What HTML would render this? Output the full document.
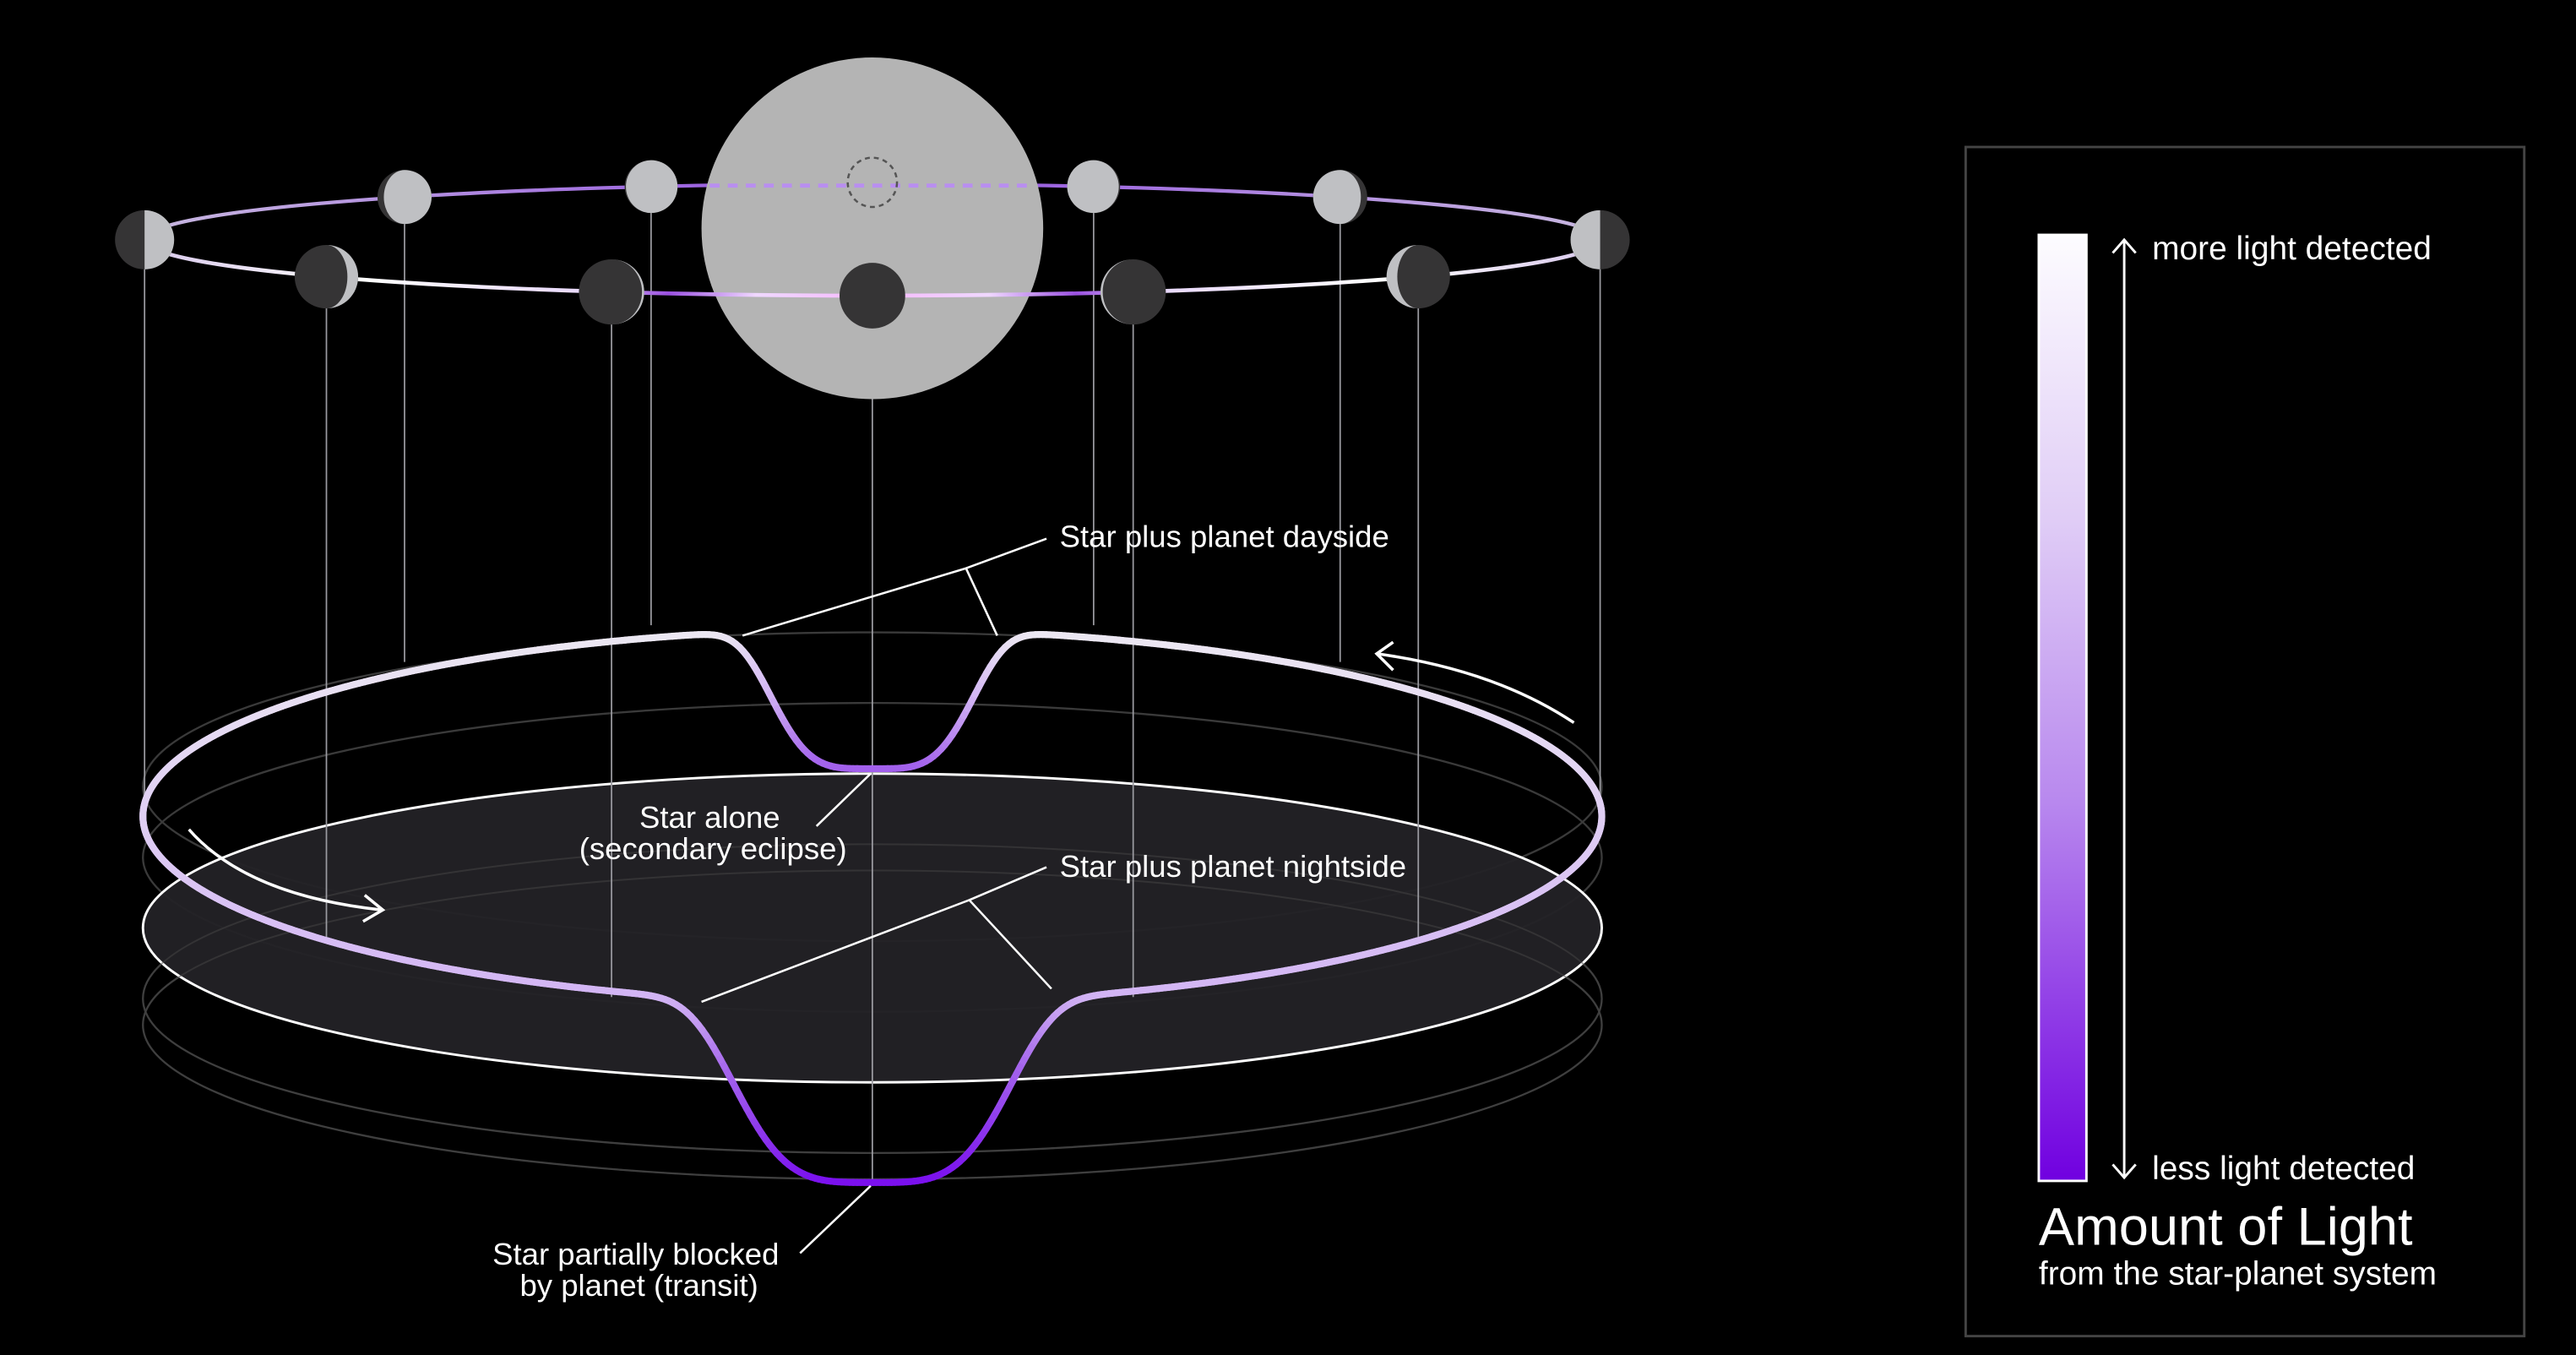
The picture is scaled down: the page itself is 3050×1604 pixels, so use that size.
<!DOCTYPE html>
<html><head><meta charset="utf-8"><style>
html,body{margin:0;padding:0;background:#000;width:3050px;height:1604px;overflow:hidden}
svg{display:block}
text{font-family:"Liberation Sans",sans-serif;fill:#fff}
</style></head><body>
<svg id="chart" width="3050" height="1604" viewBox="0 0 1568 825" preserveAspectRatio="none" xmlns="http://www.w3.org/2000/svg">
<defs>
<linearGradient id="legGrad" x1="0" y1="0" x2="0" y2="1">
<stop offset="0" stop-color="#fdfcff"/><stop offset="0.3" stop-color="#e0cdf6"/><stop offset="0.6" stop-color="#b888ee"/><stop offset="1" stop-color="#7000e0"/>
</linearGradient>
<linearGradient id="frontGrad" x1="88" y1="0" x2="974" y2="0" gradientUnits="userSpaceOnUse">
<stop offset="0" stop-color="#d8c8ec"/><stop offset="0.15" stop-color="#ffffff"/><stop offset="0.3" stop-color="#e8d8fa"/>
<stop offset="0.36" stop-color="#9a50e0"/><stop offset="0.42" stop-color="#f0d8ff"/><stop offset="0.5" stop-color="#f6b8ff"/>
<stop offset="0.58" stop-color="#f0d8ff"/><stop offset="0.64" stop-color="#9a50e0"/><stop offset="0.7" stop-color="#e8d8fa"/>
<stop offset="0.85" stop-color="#ffffff"/><stop offset="1" stop-color="#d8c8ec"/>
</linearGradient>
<linearGradient id="backGrad" x1="88" y1="0" x2="974" y2="0" gradientUnits="userSpaceOnUse">
<stop offset="0" stop-color="#c8b8e0"/><stop offset="0.4" stop-color="#9a60e0"/><stop offset="0.6" stop-color="#9a60e0"/><stop offset="1" stop-color="#c8b8e0"/>
</linearGradient>
</defs>
<g id="lowerLayer"></g>
<g id="topLayer"></g>
<g id="legend">
<rect x="1196.5" y="89.5" width="340" height="724" fill="none" stroke="#444" stroke-width="1.5"/>
<rect x="1241" y="143" width="29" height="576" fill="url(#legGrad)" stroke="#fff" stroke-width="1.5"/>
<line x1="1293" y1="147" x2="1293" y2="716" stroke="#fff" stroke-width="1.5"/>
<polyline points="1286,154 1293,146 1300,154" fill="none" stroke="#fff" stroke-width="1.5"/>
<polyline points="1286,709 1293,717 1300,709" fill="none" stroke="#fff" stroke-width="1.5"/>
<text x="1310" y="158" font-size="20">more light detected</text>
<text x="1310" y="718" font-size="20">less light detected</text>
<text x="1241" y="758" font-size="32.5">Amount of Light</text>
<text x="1241" y="782" font-size="20">from the star-planet system</text>
</g>
</svg>
<script>
// light-curve levels (height of curve above orbit plane)
const levelNames = ["transit", "starAlone", "nightside", "dayside"];
const levelValues = [-61, 3, 48, 88];
// moon orbital phases in degrees (0 = front / transit, 180 = behind star)
const moonPhases = [90, 48.6, 140, 21, 162.3, 0, -162.3, -21, -140, -48.6, -90];
// plane offsets of faint reference ellipses
const guideOffsets = [-86, -43, 43, 59];

(function(){
const NS = "http://www.w3.org/2000/svg";
const CX = 531, RX = 444, PCY = 565, PRY = 94;
const OCY = 146, ORX = 443, ORY = 34;
const TR = levelValues[0], SA = levelValues[1], NI = levelValues[2], DA = levelValues[3];
function mk(tag, attrs, parent){const e=document.createElementNS(NS,tag);for(const k in attrs)e.setAttribute(k,attrs[k]);parent.appendChild(e);return e;}
function sg(d,w){return Math.exp(-Math.pow(d/w,4));}
function flux(p){
  let f = NI + (DA-NI)*(1-Math.cos(p))/2;
  let e = sg(Math.abs(p-Math.PI),0.15);
  f = f*(1-e) + SA*e;
  let t = sg(Math.min(p, 2*Math.PI-p),0.205);
  f = f*(1-t) + TR*t;
  return f;
}
function px(p){return CX - RX*Math.sin(p);}
function py(p,f){return PCY + PRY*Math.cos(p) - f;}
function col(f){
  let c=(f-TR)/(DA-TR);
  const stops=[[0,[122,16,238]],[0.45,[164,100,236]],[0.75,[212,184,244]],[1,[236,232,242]]];
  for(let i=1;i<stops.length;i++){if(c<=stops[i][0]){const a=stops[i-1],b=stops[i];const t=(c-a[0])/(b[0]-a[0]);return "rgb("+a[1].map((v,j)=>Math.round(v+(b[1][j]-v)*t)).join(",")+")";}}
  return "rgb(236,232,242)";
}
const lowerG=document.getElementById("lowerLayer");
guideOffsets.forEach(o=>{
  const el=mk("ellipse",{cx:CX,cy:PCY+o,rx:RX,ry:PRY,fill:"none",stroke:"#3a3a3a","stroke-width":1.2},lowerG);
  
  
});
const diskEl=mk("ellipse",{cx:CX,cy:PCY,rx:RX,ry:PRY,fill:"#232226","fill-opacity":"0.95",stroke:"#fff","stroke-width":1.5},lowerG);


guideOffsets.slice(2).forEach(o=>{
  mk("ellipse",{cx:CX,cy:PCY+o,rx:RX,ry:PRY,fill:"none",stroke:"#444","stroke-width":1,"stroke-opacity":0.5},lowerG);
});
moonPhases.forEach(d=>{
  const p=d*Math.PI/180;
  const x=CX-ORX*Math.sin(p), y=OCY+ORY*Math.cos(p);
  let yEnd = (d===0)? py(0,TR) : 495+120*Math.cos(p);
  const l=mk("line",{x1:x,y1:y,x2:x,y2:yEnd,stroke:"#9a9aa0","stroke-width":0.9},lowerG);
  
  
});
const curveG=mk("g",{},lowerG);


const N=1200;
for(let i=0;i<N;i++){
  const p0=i/N*2*Math.PI,p1=(i+1)/N*2*Math.PI;
  const f0=flux(p0),f1=flux(p1);
  mk("line",{x1:px(p0),y1:py(p0,f0),x2:px(p1),y2:py(p1,f1),stroke:col((f0+f1)/2),"stroke-width":4.2,"stroke-linecap":"round"},curveG);
}
const topG=document.getElementById("topLayer");
const backArc=mk("path",{d:`M${CX-ORX},${OCY} A${ORX} ${ORY} 0 0 1 ${CX+ORX},${OCY}`,fill:"none",stroke:"url(#backGrad)","stroke-width":2.2},topG);


function moon(d,parent){
  const p=d*Math.PI/180;
  const x=CX-ORX*Math.sin(p), y=OCY+ORY*Math.cos(p);
  const r=18+2*Math.cos(p);
  const g=mk("g",{},parent);
  
  
  mk("circle",{cx:x,cy:y,r:r,fill:"#353435"},g);
  const k=(1-Math.cos(p))/2;
  if(k<0.01) return;
  const right = x<CX;
  const t=r*Math.abs(2*k-1);
  const s1=right?1:0;
  const s2 = (k>0.5) ? s1 : 1-s1;
  mk("path",{d:`M${x},${y-r} A${r} ${r} 0 0 ${s1} ${x},${y+r} A${t} ${r} 0 0 ${s2} ${x},${y-r} Z`,fill:"#bfc0c3"},g);
}
moonPhases.filter(d=>Math.abs(d)>90).forEach(d=>moon(d,topG));
const starEl=mk("circle",{cx:CX,cy:139,r:104,fill:"#b4b4b4"},topG);


mk("line",{x1:432,y1:113,x2:628,y2:113,stroke:"#b98ef0","stroke-width":2.5,"stroke-dasharray":"6 5"},topG);
const hid=mk("circle",{cx:CX,cy:111,r:15,fill:"none",stroke:"#555","stroke-width":1.3,"stroke-dasharray":"3 2.5"},topG);


const frontArc=mk("path",{d:`M${CX-ORX},${OCY} A${ORX} ${ORY} 0 0 0 ${CX+ORX},${OCY}`,fill:"none",stroke:"url(#frontGrad)","stroke-width":2.4},topG);


moonPhases.filter(d=>Math.abs(d)<=90).forEach(d=>moon(d,topG));
})();
</script>
<svg style="position:absolute;left:0;top:0" width="3050" height="1604" viewBox="0 0 1568 825" preserveAspectRatio="none" xmlns="http://www.w3.org/2000/svg">
<g stroke="#fff" stroke-width="1.3" fill="none">
<polyline points="637,328 588,346 452,387"/>
<line x1="588" y1="346" x2="607" y2="387"/>
<line x1="530" y1="471" x2="497" y2="503"/>
<polyline points="637,528 590,548 427,610"/>
<line x1="590" y1="548" x2="640" y2="602"/>
<line x1="530" y1="722" x2="487" y2="763"/>
<path d="M115,505 Q150,545 232,554" stroke-width="1.8"/>
<polyline points="222,545 233,554 221,561" stroke-width="1.8"/>
<path d="M958,440 Q910,408 838,398" stroke-width="1.8"/>
<polyline points="848,391 838,398 848,408" stroke-width="1.8"/>
</g>
<g font-family="Liberation Sans, sans-serif" fill="#fff" font-size="18.8">
<text x="645" y="333">Star plus planet dayside</text>
<text x="432" y="504" text-anchor="middle">Star alone</text>
<text x="434" y="523" text-anchor="middle">(secondary eclipse)</text>
<text x="645" y="534">Star plus planet nightside</text>
<text x="387" y="770" text-anchor="middle">Star partially blocked</text>
<text x="389" y="789" text-anchor="middle">by planet (transit)</text>
</g>
</svg>
</body></html>
